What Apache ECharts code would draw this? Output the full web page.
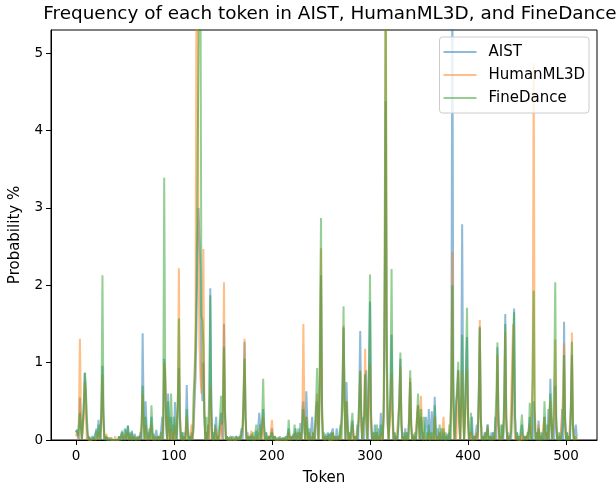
<!DOCTYPE html>
<html>
<head>
<meta charset="utf-8">
<script src="https://cdn.jsdelivr.net/npm/echarts@6/dist/echarts.min.js"></script>
<style>
  html, body { margin: 0; padding: 0; background: #fff; }
  #tokenChart { width: 616px; height: 491px; }
</style>
</head>
<body>
<div id="tokenChart"></div>
<script>
// token count in the codebook
const tokenCount = 512;
const seriesNames = ['AIST', 'HumanML3D', 'FineDance'];
const xTicks = [0, 100, 200, 300, 400, 500];
const yTicks = [0, 1, 2, 3, 4, 5];

// probability %, [token, value]; tokens not listed sit at ~0
const aistPeaks = [[0,0.1],[1,0.13],[2,0.05],[4,0.55],[5,0.2],[8,0.5],[9,0.87],[10,0.6],[11,0.2],[13,0.05],[17,0.05],[21,0.15],[23,0.26],[24,0.1],[27,0.96],[28,0.3],[31,0.05],[36,0.03],[44,0.05],[47,0.1],[50,0.15],[53,0.19],[55,0.1],[57,0.12],[60,0.08],[63,0.05],[66,0.1],[68,1.38],[69,0.4],[71,0.5],[72,0.2],[74,0.1],[77,0.3],[79,0.08],[82,0.13],[85,0.05],[87,0.15],[88,0.3],[90,1.05],[91,0.8],[92,0.3],[94,0.6],[95,0.2],[97,0.3],[99,0.2],[101,0.49],[102,0.15],[105,0.93],[106,0.3],[108,0.1],[110,0.1],[112,0.1],[113,0.71],[114,0.2],[116,0.05],[118,0.1],[120,0.15],[121,0.5],[122,0.8],[123,1.5],[124,2.5],[125,3.0],[126,3.0],[127,2.2],[128,0.8],[129,0.5],[130,1.0],[131,0.3],[133,0.1],[135,0.2],[137,1.96],[138,0.6],[140,0.1],[142,0.15],[143,0.3],[145,0.05],[147,0.2],[148,0.35],[149,0.1],[151,1.5],[152,0.4],[154,0.05],[157,0.03],[160,0.05],[164,0.05],[166,0.03],[169,0.15],[171,0.5],[172,1.27],[173,0.3],[175,0.1],[177,0.05],[179,0.08],[182,0.05],[184,0.12],[187,0.35],[188,0.2],[190,0.2],[191,0.4],[192,0.15],[194,0.1],[197,0.05],[200,0.15],[203,0.05],[206,0.03],[210,0.02],[214,0.05],[217,0.15],[219,0.05],[222,0.08],[224,0.15],[227,0.1],[229,0.22],[231,0.4],[232,0.5],[233,0.2],[235,0.63],[236,0.25],[238,0.1],[240,0.15],[241,0.3],[243,0.05],[245,0.4],[246,0.5],[248,0.3],[249,0.8],[250,2.13],[251,0.3],[253,0.05],[255,0.08],[257,0.1],[259,0.08],[261,0.1],[262,0.15],[264,0.05],[266,0.15],[268,0.05],[271,0.3],[272,0.8],[273,1.45],[274,0.6],[276,0.75],[277,0.3],[279,0.1],[282,0.25],[283,0.05],[285,0.05],[287,0.2],[289,0.6],[290,1.41],[291,0.4],[293,0.3],[295,0.8],[296,0.9],[297,0.3],[299,0.9],[300,1.79],[301,0.3],[303,0.1],[305,0.2],[307,0.1],[309,0.15],[311,0.35],[312,0.1],[314,0.3],[315,1.5],[316,4.38],[317,1.0],[318,0.2],[320,0.3],[321,0.6],[322,1.36],[323,0.4],[325,0.1],[327,0.05],[329,0.2],[330,0.6],[331,1.05],[332,0.3],[334,0.1],[336,0.15],[338,0.1],[340,0.3],[341,0.75],[342,0.2],[344,0.08],[346,0.05],[348,0.25],[349,0.45],[350,0.2],[352,0.3],[354,0.1],[357,0.3],[358,0.2],[360,0.4],[361,0.1],[363,0.37],[364,0.15],[366,0.56],[367,0.2],[369,0.15],[371,0.1],[373,0.15],[375,0.1],[377,0.05],[379,0.08],[381,0.1],[383,0.8],[384,6.0],[385,0.8],[386,0.2],[388,0.5],[389,0.6],[390,0.9],[391,0.3],[393,0.6],[394,2.79],[395,0.6],[397,0.4],[398,0.9],[399,1.33],[400,0.3],[402,0.1],[404,0.3],[406,0.05],[409,0.2],[411,0.6],[412,1.47],[413,0.3],[415,0.05],[417,0.1],[420,0.2],[422,0.05],[424,0.1],[426,0.1],[428,0.3],[430,1.2],[431,0.3],[433,0.05],[435,0.2],[437,0.5],[438,1.63],[439,0.3],[441,0.1],[443,0.05],[445,0.4],[446,1.0],[447,1.7],[448,0.3],[450,0.1],[452,0.05],[455,0.2],[457,0.05],[460,0.05],[463,0.3],[465,0.05],[467,0.5],[468,0.2],[470,0.1],[472,0.25],[474,0.1],[476,0.05],[478,0.3],[480,0.1],[482,0.4],[484,0.79],[485,0.3],[487,0.2],[489,0.7],[490,0.2],[492,0.05],[494,0.1],[496,0.4],[498,1.53],[499,0.3],[501,0.1],[503,0.05],[505,0.5],[506,1.1],[507,0.2],[509,0.1],[510,0.2],[511,0.05]];

const humanPeaks = [[0,0.05],[1,0.1],[3,0.3],[4,1.31],[5,0.4],[8,0.3],[9,0.75],[10,0.5],[12,0.05],[19,0.03],[22,0.05],[23,0.1],[26,0.3],[27,0.85],[28,0.2],[31,0.08],[35,0.03],[40,0.05],[45,0.03],[49,0.08],[53,0.1],[56,0.05],[60,0.05],[64,0.03],[67,0.2],[68,0.6],[69,0.2],[71,0.2],[74,0.05],[77,0.2],[80,0.03],[84,0.05],[87,0.05],[89,0.2],[90,1.0],[91,0.9],[92,0.2],[94,0.3],[97,0.15],[99,0.1],[101,0.2],[104,0.5],[105,2.22],[106,0.4],[108,0.05],[110,0.05],[113,0.3],[115,0.05],[118,0.2],[120,0.2],[121,0.8],[122,1.5],[123,6.5],[124,6.0],[125,2.5],[126,1.2],[127,0.8],[128,0.6],[129,1.0],[130,2.47],[131,0.4],[133,0.1],[135,0.2],[137,0.7],[138,0.3],[140,0.05],[143,0.15],[145,0.05],[148,0.25],[150,0.4],[151,2.04],[152,0.4],[154,0.05],[160,0.03],[166,0.03],[170,0.1],[171,0.6],[172,1.31],[173,0.3],[176,0.05],[179,0.12],[182,0.03],[185,0.05],[188,0.15],[191,0.3],[193,0.05],[197,0.05],[200,0.26],[202,0.05],[207,0.03],[212,0.03],[217,0.1],[220,0.05],[224,0.1],[227,0.05],[229,0.1],[231,0.3],[232,1.5],[233,0.4],[235,0.3],[237,0.1],[240,0.05],[242,0.1],[245,0.3],[246,0.6],[248,0.2],[249,1.0],[250,2.48],[251,0.4],[253,0.05],[257,0.05],[262,0.1],[265,0.05],[269,0.05],[272,0.5],[273,1.48],[274,0.5],[276,0.5],[277,0.2],[280,0.05],[282,0.2],[285,0.05],[289,0.3],[290,0.9],[291,0.2],[294,0.3],[295,1.18],[296,0.4],[298,0.2],[299,0.6],[300,0.97],[301,0.2],[304,0.05],[307,0.1],[310,0.05],[312,0.1],[314,0.4],[315,2.0],[316,6.5],[317,1.2],[318,0.2],[320,0.2],[321,0.4],[322,0.85],[323,0.2],[326,0.05],[330,0.5],[331,0.95],[332,0.2],[335,0.05],[338,0.05],[341,0.8],[342,0.2],[345,0.05],[349,0.45],[351,0.3],[352,0.57],[353,0.15],[356,0.05],[360,0.1],[364,0.05],[366,0.3],[368,0.05],[372,0.1],[375,0.3],[376,0.05],[380,0.05],[383,0.5],[384,2.43],[385,0.4],[387,0.2],[389,0.5],[390,0.9],[391,0.2],[393,0.4],[394,0.9],[395,0.3],[398,0.6],[399,0.9],[400,0.2],[403,0.1],[406,0.05],[409,0.1],[411,0.5],[412,1.55],[413,0.3],[416,0.05],[420,0.15],[423,0.05],[427,0.05],[429,0.3],[430,1.1],[431,0.2],[434,0.05],[437,0.3],[438,1.4],[439,0.2],[442,0.05],[446,1.5],[447,0.3],[450,0.05],[455,0.1],[459,0.05],[463,0.2],[466,0.8],[467,4.87],[468,0.5],[470,0.1],[472,0.2],[474,0.05],[478,0.3],[481,0.1],[484,0.5],[485,0.2],[488,0.4],[489,1.3],[490,0.2],[493,0.05],[496,0.3],[497,0.6],[498,1.25],[499,0.2],[502,0.05],[505,0.4],[506,1.39],[507,0.2],[510,0.05]];

const fineDancePeaks = [[0,0.1],[1,0.13],[2,0.05],[3,0.2],[4,0.35],[5,0.15],[8,0.4],[9,0.87],[10,0.7],[11,0.3],[12,0.1],[14,0.03],[18,0.03],[21,0.12],[23,0.2],[24,0.1],[26,0.4],[27,2.13],[28,0.4],[30,0.05],[33,0.03],[38,0.02],[44,0.05],[47,0.12],[49,0.05],[51,0.13],[53,0.18],[55,0.08],[57,0.1],[59,0.05],[62,0.03],[65,0.05],[67,0.2],[68,0.7],[69,0.3],[71,0.3],[72,0.1],[75,0.15],[77,0.45],[78,0.15],[81,0.05],[84,0.05],[87,0.1],[89,0.3],[90,3.39],[91,0.8],[92,0.2],[94,0.5],[95,0.15],[97,0.6],[98,0.2],[100,0.3],[101,0.3],[103,0.1],[104,0.6],[105,1.57],[106,0.3],[108,0.1],[111,0.05],[113,0.4],[114,0.1],[117,0.05],[119,0.1],[120,0.6],[121,0.82],[122,1.2],[123,2.0],[124,3.5],[125,4.9],[126,6.5],[127,6.0],[128,1.6],[129,1.55],[130,1.2],[131,0.3],[133,0.3],[135,0.15],[136,0.6],[137,1.87],[138,0.4],[140,0.1],[142,0.2],[144,0.05],[147,0.3],[148,0.57],[149,0.2],[150,0.5],[151,1.2],[152,0.3],[154,0.05],[158,0.05],[163,0.05],[167,0.05],[170,0.2],[171,0.5],[172,1.05],[173,0.3],[175,0.05],[178,0.05],[181,0.1],[184,0.2],[186,0.1],[188,0.2],[190,0.3],[191,0.79],[192,0.2],[194,0.1],[197,0.05],[200,0.1],[203,0.05],[208,0.05],[212,0.03],[215,0.05],[217,0.26],[218,0.05],[221,0.05],[223,0.2],[224,0.05],[227,0.15],[229,0.1],[231,0.2],[232,0.4],[233,0.1],[235,0.3],[236,0.1],[238,0.15],[240,0.05],[242,0.1],[244,0.2],[245,0.5],[246,0.93],[247,0.2],[249,1.5],[250,2.87],[251,0.5],[253,0.1],[255,0.05],[258,0.08],[260,0.1],[262,0.1],[264,0.05],[267,0.05],[270,0.2],[272,0.6],[273,1.73],[274,0.4],[276,0.5],[277,0.2],[279,0.1],[281,0.2],[282,0.35],[283,0.1],[286,0.05],[288,0.2],[289,0.5],[290,0.89],[291,0.3],[293,0.2],[294,0.3],[295,0.85],[296,0.3],[298,0.4],[299,1.0],[300,2.14],[301,0.4],[303,0.1],[305,0.1],[307,0.2],[309,0.05],[311,0.2],[312,0.1],[314,0.5],[315,2.5],[316,6.3],[317,1.5],[318,0.3],[320,0.3],[321,0.8],[322,2.21],[323,0.4],[325,0.1],[327,0.05],[329,0.2],[330,0.5],[331,1.13],[332,0.2],[334,0.05],[336,0.1],[338,0.1],[340,0.3],[341,0.9],[342,0.2],[344,0.05],[346,0.1],[348,0.3],[349,0.6],[350,0.2],[352,0.4],[353,0.15],[355,0.3],[356,0.1],[358,0.1],[360,0.2],[362,0.1],[364,0.1],[366,0.45],[367,0.1],[369,0.05],[371,0.2],[373,0.05],[375,0.15],[377,0.1],[379,0.05],[381,0.2],[383,0.6],[384,2.0],[385,0.5],[387,0.2],[388,0.5],[389,0.7],[390,1.01],[391,0.3],[393,0.5],[394,1.36],[395,0.4],[397,0.3],[398,1.0],[399,1.71],[400,0.3],[402,0.1],[403,0.35],[404,0.1],[407,0.05],[410,0.1],[411,0.6],[412,1.45],[413,0.3],[415,0.05],[418,0.1],[420,0.2],[422,0.05],[424,0.05],[426,0.1],[428,0.3],[429,0.6],[430,1.26],[431,0.3],[433,0.1],[434,0.2],[436,0.1],[437,0.6],[438,1.5],[439,0.3],[441,0.05],[444,0.1],[445,0.5],[446,1.2],[447,1.65],[448,0.3],[450,0.1],[452,0.05],[455,0.33],[456,0.1],[458,0.05],[461,0.1],[463,0.48],[464,0.1],[466,1.0],[467,1.93],[468,0.4],[470,0.1],[472,0.15],[474,0.05],[476,0.1],[478,0.5],[479,0.15],[481,0.2],[483,0.3],[484,0.6],[485,0.2],[487,0.3],[488,0.8],[489,2.04],[490,0.3],[492,0.1],[494,0.05],[497,0.2],[498,1.1],[499,0.3],[501,0.1],[503,0.05],[505,0.4],[506,1.27],[507,0.2],[509,0.05],[511,0.05]];

function toLine(peaks) {
    var vals = new Array(tokenCount).fill(0);
    peaks.forEach(function (p) { vals[p[0]] = p[1]; });
    return vals.map(function (v, i) { return [i, v]; });
}

var chart = echarts.init(document.getElementById('tokenChart'));
var font = 'DejaVu Sans';
var colors = ['rgba(31,119,180,0.5)', 'rgba(255,127,14,0.5)', 'rgba(44,160,44,0.5)'];
var allPeaks = [aistPeaks, humanPeaks, fineDancePeaks];

var option = {
    animation: false,
    textStyle: { fontFamily: font },
    title: {
        text: 'Frequency of each token in AIST, HumanML3D, and FineDance',
        left: 325,
        textAlign: 'center',
        top: 0,
        textStyle: { fontFamily: font, fontSize: 18.4, fontWeight: 'normal', color: '#000' }
    },
    grid: {
        left: 51, right: 19, top: 30, bottom: 49,
        show: true, borderColor: '#000', borderWidth: 1
    },
    legend: {
        orient: 'vertical',
        right: 27,
        top: 37,
        icon: 'rect',
        itemWidth: 33,
        itemHeight: 2,
        itemGap: 5,
        padding: [6, 4, 6, 4],
        backgroundColor: 'rgba(255,255,255,0.8)',
        borderColor: '#cccccc',
        borderWidth: 1,
        borderRadius: 3,
        textStyle: { fontFamily: font, fontSize: 15, color: '#000', padding: [0, 0, 0, 7], lineHeight: 18 },
        data: seriesNames
    },
    xAxis: {
        type: 'value',
        min: -25.5,
        max: 531.6,
        name: 'Token',
        nameLocation: 'middle',
        nameGap: 31,
        nameTextStyle: { fontFamily: font, fontSize: 15, color: '#000' },
        splitLine: { show: false },
        axisLine: { show: true, onZero: false, lineStyle: { color: '#000', width: 1 } },
        axisTick: { show: true, length: 5, lineStyle: { color: '#000' }, customValues: xTicks },
        axisLabel: { margin: 9, fontSize: 13.5, color: '#000', fontFamily: font, customValues: xTicks }
    },
    yAxis: {
        type: 'value',
        min: 0,
        max: 5.3,
        name: 'Probability %',
        nameLocation: 'middle',
        nameGap: 28,
        nameTextStyle: { fontFamily: font, fontSize: 15, color: '#000' },
        splitLine: { show: false },
        axisLine: { show: true, onZero: false, lineStyle: { color: '#000', width: 1 } },
        axisTick: { show: true, length: 5, lineStyle: { color: '#000' }, customValues: yTicks },
        axisLabel: { margin: 8, fontSize: 13.5, color: '#000', fontFamily: font, customValues: yTicks }
    },
    series: seriesNames.map(function (name, k) {
        return {
            name: name,
            type: 'line',
            data: toLine(allPeaks[k]),
            showSymbol: false,
            symbol: 'none',
            color: colors[k],
            lineStyle: { width: 2, color: colors[k] },
            clip: true
        };
    })
};
chart.setOption(option);
</script>
</body>
</html>
